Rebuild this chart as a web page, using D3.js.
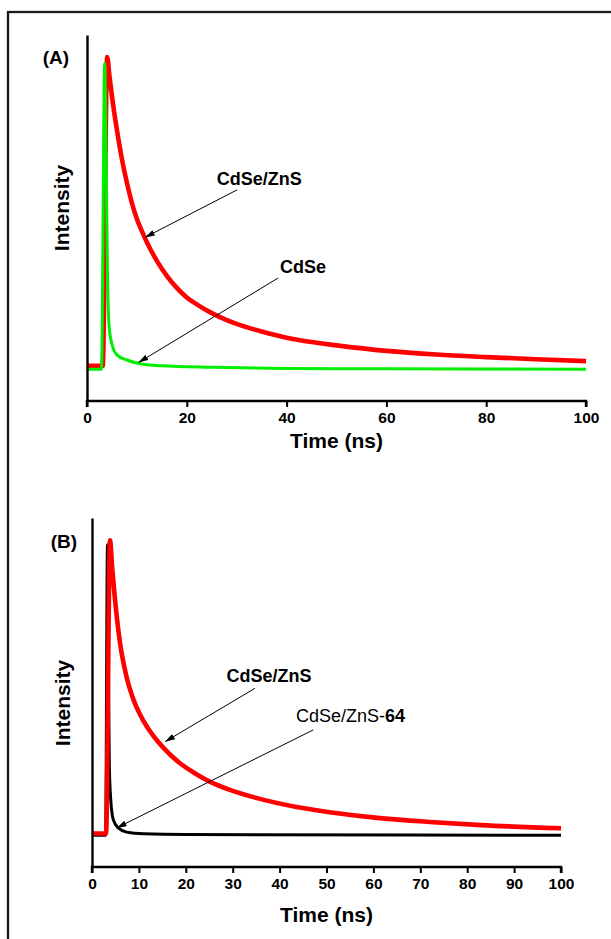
<!DOCTYPE html>
<html>
<head>
<meta charset="utf-8">
<script src="https://cdn.jsdelivr.net/npm/d3@7"></script>
<style>
  html, body { margin: 0; padding: 0; background: #fff; }
  svg { display: block; font-family: "Liberation Sans", Arial, Helvetica, sans-serif; }
</style>
</head>
<body>
<svg id="fig" width="611" height="939"></svg>
<script>
// Time axis ticks (ns)
const ticksA = [0, 20, 40, 60, 80, 100];
const ticksB = [0, 10, 20, 30, 40, 50, 60, 70, 80, 90, 100];

// Photoluminescence decays: [time (ns), normalized intensity]
const cdseZnsA = [
  [0, 0.096], [3.15, 0.096], [4.05, 0.940], [4.5, 0.888], [5, 0.833], [6, 0.740],
  [7, 0.661], [8, 0.596], [9, 0.541], [10, 0.497], [11, 0.464], [12, 0.434],
  [14, 0.383], [16, 0.342], [18, 0.309], [20, 0.283], [22, 0.264], [25, 0.240],
  [28, 0.221], [31, 0.206], [35, 0.190], [40, 0.173], [45, 0.161], [50, 0.152],
  [60, 0.137], [70, 0.127], [80, 0.120], [90, 0.114], [100, 0.109]
];
const cdseA = [
  [0, 0.087], [2.9, 0.087], [3.55, 0.923], [3.8, 0.713], [4.1, 0.350], [4.4, 0.210],
  [5.0, 0.155], [6.0, 0.126], [8, 0.112], [11, 0.101], [15, 0.096], [25, 0.092],
  [40, 0.089], [60, 0.088], [100, 0.087]
];
const cdseZnsB = [
  [0, 0.096], [3.0, 0.096], [3.84, 0.936], [4.3, 0.858], [4.8, 0.781], [5.3, 0.715],
  [6.0, 0.640], [7.4, 0.543], [9, 0.474], [11, 0.418], [13, 0.377], [15, 0.345],
  [18.5, 0.300], [22, 0.268], [25.2, 0.244], [29.4, 0.221], [35, 0.198], [43.6, 0.172],
  [50.7, 0.157], [61.4, 0.140], [72, 0.129], [83, 0.120], [100, 0.111]
];
const cdseZns64B = [
  [0, 0.091], [2.9, 0.091], [3.3, 0.923], [3.5, 0.573], [3.7, 0.287], [4.0, 0.192],
  [4.55, 0.135], [5.6, 0.112], [7.4, 0.100], [11, 0.095], [20, 0.093], [100, 0.091]
];

// Arrow annotations: label anchor, arrow tail and arrow tip in data units
const notesA = [
  { parts: [["CdSe/ZnS", "bold"]], at: [26.0, 0.590], tail: [30.1, 0.577], tip: [11.6, 0.447] },
  { parts: [["CdSe", "bold"]], at: [38.7, 0.350], tail: [38.3, 0.336], tip: [10.3, 0.105] }
];
const notesB = [
  { parts: [["CdSe/ZnS", "bold"]], at: [28.7, 0.530], tail: [34.75, 0.512], tip: [15.57, 0.359] },
  { parts: [["CdSe/ZnS-", "normal"], ["64", "bold"]], at: [43.5, 0.415], tail: [47.2, 0.393], tip: [5.27, 0.112] }
];

const panels = [
  {
    tag: "(A)", ticks: ticksA, notes: notesA,
    box: { left: 87, right: 586, top: 35, bottom: 401 },
    tagPos: [56, 64], yTitle: [69, 208], xTitleGap: 47,
    series: [
      { data: cdseZnsA, color: "#ff0000", width: 4.6 },
      { data: cdseA, color: "#00ee00", width: 3 }
    ]
  },
  {
    tag: "(B)", ticks: ticksB, notes: notesB,
    box: { left: 92, right: 561, top: 518, bottom: 867 },
    tagPos: [64, 548], yTitle: [70, 703], xTitleGap: 55,
    series: [
      { data: cdseZns64B, color: "#000000", width: 3 },
      { data: cdseZnsB, color: "#ff0000", width: 4.6 }
    ]
  }
];

const svg = d3.select("#fig");

// figure frame (runs off the right and bottom edges)
svg.append("rect")
  .attr("x", 8).attr("y", 12)
  .attr("width", 700).attr("height", 1000)
  .attr("fill", "none").attr("stroke", "#1a1a1a").attr("stroke-width", 2.3);

svg.append("defs").append("marker")
  .attr("id", "head")
  .attr("markerUnits", "userSpaceOnUse")
  .attr("viewBox", "0 0 10 6")
  .attr("markerWidth", 10).attr("markerHeight", 6)
  .attr("refX", 10).attr("refY", 3)
  .attr("orient", "auto")
  .append("path").attr("d", "M0,0 L10,3 L0,6 Z").attr("fill", "#000");

panels.forEach(p => {
  const b = p.box;
  const x = d3.scaleLinear().domain([0, 100]).range([b.left, b.right]);
  const y = d3.scaleLinear().domain([0, 1]).range([b.bottom, b.top]);
  const g = svg.append("g");

  // decay curves
  const line = d3.line()
    .x(d => x(d[0])).y(d => y(d[1]))
    .curve(d3.curveMonotoneX);
  p.series.forEach(s => {
    g.append("path")
      .datum(s.data)
      .attr("d", line)
      .attr("fill", "none")
      .attr("stroke", s.color)
      .attr("stroke-width", s.width)
      .attr("stroke-linejoin", "round");
  });

  // x axis
  const xAxis = d3.axisBottom(x)
    .tickValues(p.ticks)
    .tickSize(6)
    .tickPadding(5)
    .tickFormat(d3.format("d"));
  const ax = g.append("g")
    .attr("transform", `translate(0,${b.bottom})`)
    .call(xAxis);
  ax.select(".domain").attr("stroke", "#000").attr("stroke-width", 2.4)
    .attr("d", `M${b.left},6V0H${b.right}V6`);
  ax.selectAll(".tick line").attr("stroke", "#000").attr("stroke-width", 2);
  ax.selectAll(".tick text")
    .attr("font-family", "'Liberation Sans', Arial, sans-serif")
    .attr("font-size", 15.5).attr("font-weight", "bold").attr("fill", "#000");

  // y axis (no ticks)
  const yAxis = d3.axisLeft(y).tickValues([]).tickSizeOuter(0);
  const ay = g.append("g")
    .attr("transform", `translate(${b.left},0)`)
    .call(yAxis);
  ay.select(".domain").attr("stroke", "#000").attr("stroke-width", 2.4);

  // axis titles
  g.append("text")
    .attr("x", (b.left + b.right) / 2)
    .attr("y", b.bottom + p.xTitleGap)
    .attr("text-anchor", "middle")
    .attr("font-size", 21).attr("font-weight", "bold")
    .text("Time (ns)");
  g.append("text")
    .attr("transform", `translate(${p.yTitle[0]},${p.yTitle[1]}) rotate(-90)`)
    .attr("text-anchor", "middle")
    .attr("font-size", 21).attr("font-weight", "bold")
    .text("Intensity");

  // panel tag
  g.append("text")
    .attr("x", p.tagPos[0]).attr("y", p.tagPos[1])
    .attr("text-anchor", "middle")
    .attr("font-size", 19).attr("font-weight", "bold")
    .text(p.tag);

  // annotations with arrows
  p.notes.forEach(n => {
    g.append("line")
      .attr("x1", x(n.tail[0])).attr("y1", y(n.tail[1]))
      .attr("x2", x(n.tip[0])).attr("y2", y(n.tip[1]))
      .attr("stroke", "#000").attr("stroke-width", 1)
      .attr("marker-end", "url(#head)");
    const t = g.append("text")
      .attr("x", x(n.at[0])).attr("y", y(n.at[1]))
      .attr("font-size", 18);
    n.parts.forEach(([str, w]) => t.append("tspan").attr("font-weight", w).text(str));
  });
});
</script>
</body>
</html>
